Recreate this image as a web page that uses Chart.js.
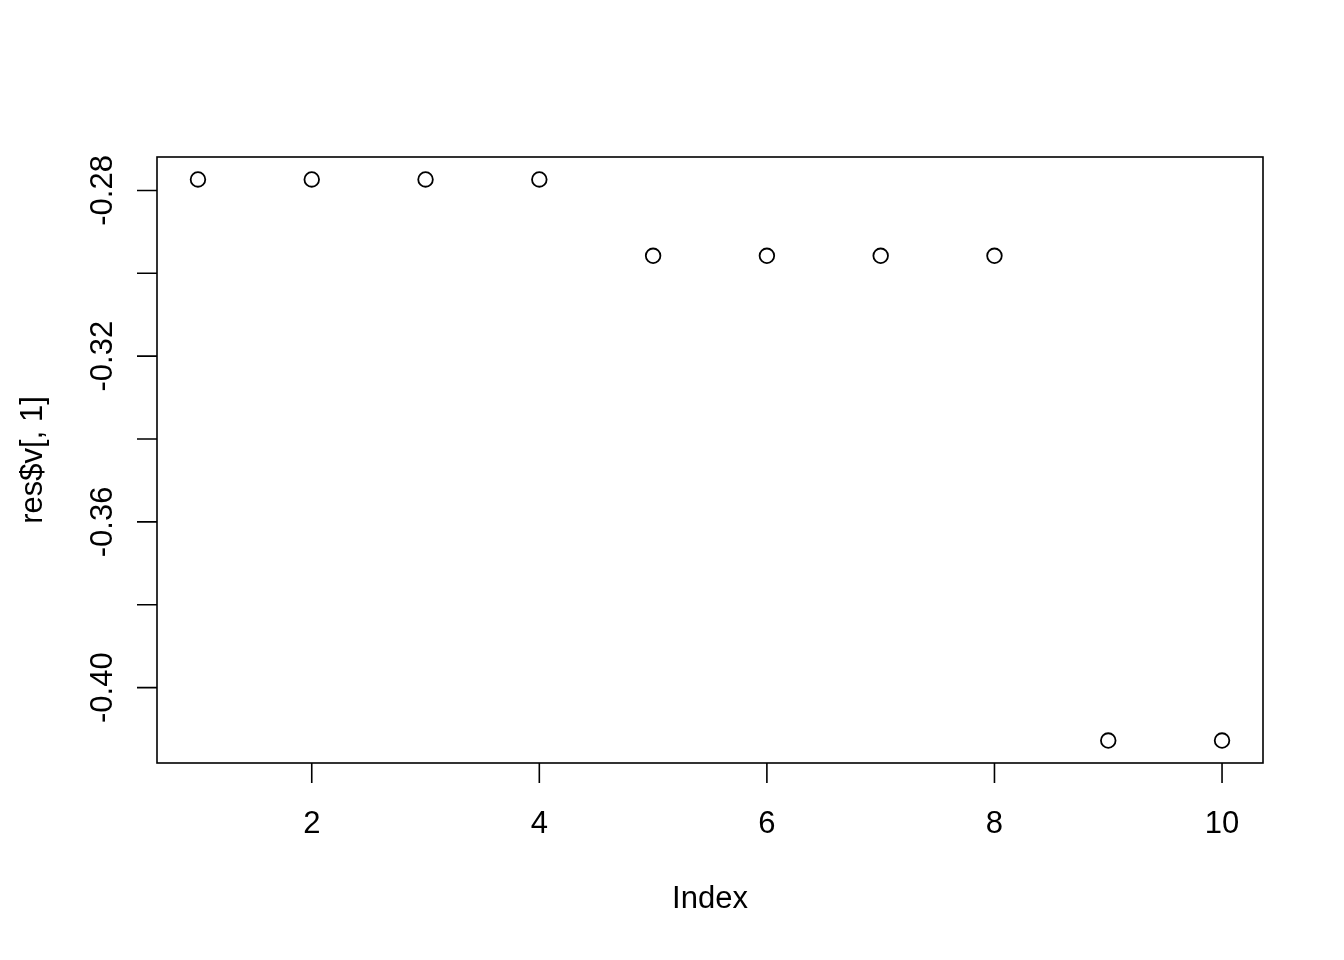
<!DOCTYPE html>
<html>
<head>
<meta charset="utf-8">
<script src="https://cdn.jsdelivr.net/npm/chart.js@4"></script>
<style>
html,body{margin:0;padding:0;background:#fff;}
#wrap{width:1344px;height:960px;}
</style>
</head>
<body>
<div id="wrap"><canvas id="c" width="1344" height="960"></canvas></div>
<script>
const indexValues = [1, 2, 3, 4, 5, 6, 7, 8, 9, 10];
const resV1 = [-0.27735, -0.27735, -0.27735, -0.27735, -0.29578, -0.29578, -0.29578, -0.29578, -0.41277, -0.41277];
const xTicks = [2, 4, 6, 8, 10];
const xTickLabels = ["2", "4", "6", "8", "10"];
const yTicks = [-0.28, -0.30, -0.32, -0.34, -0.36, -0.38, -0.40];
const yTickLabels = ["-0.28", "", "-0.32", "", "-0.36", "", "-0.40"];
const xTitle = "Index";
const yTitle = "res$v[, 1]";

const FONT = '31px "Liberation Sans", Arial, sans-serif';

const rAxes = {
  id: 'rAxes',
  afterDraw(chart) {
    const ctx = chart.ctx;
    const a = chart.chartArea;
    const xs = chart.scales.x, ys = chart.scales.y;
    ctx.save();
    ctx.strokeStyle = '#000';
    ctx.fillStyle = '#000';
    ctx.lineWidth = 1.6;
    ctx.strokeRect(a.left, a.top, a.right - a.left, a.bottom - a.top);
    ctx.font = FONT;
    // x ticks
    ctx.beginPath();
    xTicks.forEach(v => {
      const px = xs.getPixelForValue(v);
      ctx.moveTo(px, a.bottom);
      ctx.lineTo(px, a.bottom + 20);
    });
    ctx.stroke();
    ctx.textAlign = 'center';
    ctx.textBaseline = 'alphabetic';
    xTicks.forEach((v, i) => {
      ctx.fillText(xTickLabels[i], xs.getPixelForValue(v), a.bottom + 70);
    });
    ctx.fillText(xTitle, (a.left + a.right) / 2, a.bottom + 145);
    // y ticks
    ctx.beginPath();
    yTicks.forEach(v => {
      const py = ys.getPixelForValue(v);
      ctx.moveTo(a.left, py);
      ctx.lineTo(a.left - 20, py);
    });
    ctx.stroke();
    yTicks.forEach((v, i) => {
      if (!yTickLabels[i]) return;
      const py = ys.getPixelForValue(v);
      ctx.save();
      ctx.translate(a.left - 45, py);
      ctx.rotate(-Math.PI / 2);
      ctx.fillText(yTickLabels[i], 0, 0);
      ctx.restore();
    });
    ctx.save();
    ctx.translate(a.left - 115, (a.top + a.bottom) / 2);
    ctx.rotate(-Math.PI / 2);
    ctx.fillText(yTitle, 0, 0);
    ctx.restore();
    ctx.restore();
  }
};

new Chart(document.getElementById('c'), {
  type: 'scatter',
  data: {
    datasets: [{
      data: indexValues.map((x, i) => ({x: x, y: resV1[i]})),
      pointStyle: 'circle',
      pointRadius: 7.3,
      pointBorderWidth: 1.8,
      pointBorderColor: '#000',
      pointBackgroundColor: 'rgba(0,0,0,0)',
      showLine: false
    }]
  },
  options: {
    responsive: false,
    animation: false,
    devicePixelRatio: 1,
    layout: { padding: { left: 157, right: 81, top: 157, bottom: 197 } },
    plugins: { legend: { display: false }, tooltip: { enabled: false } },
    scales: {
      x: { type: 'linear', display: false, min: 0.64, max: 10.36 },
      y: { type: 'linear', display: false, min: -0.41819, max: -0.27193 }
    }
  },
  plugins: [rAxes]
});
</script>
</body>
</html>
